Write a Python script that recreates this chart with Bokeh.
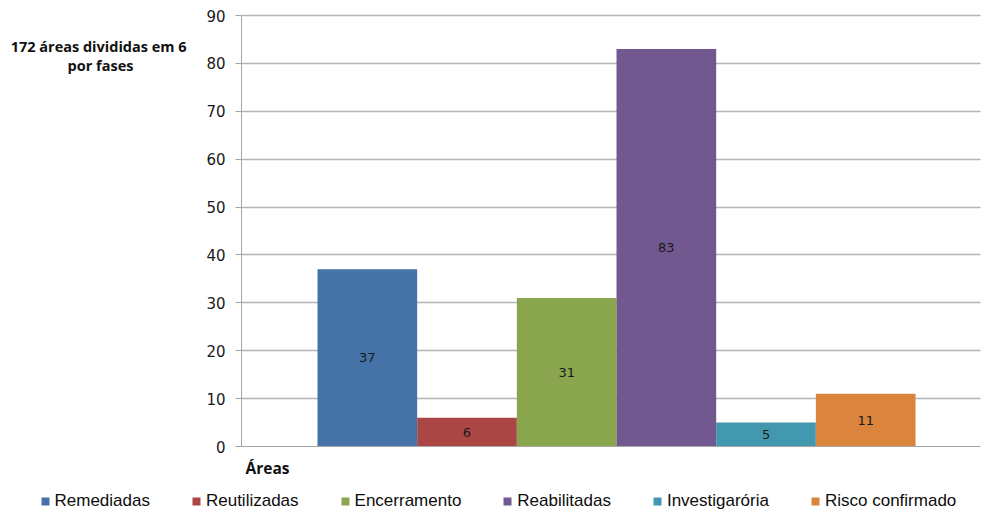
from bokeh.plotting import figure
from bokeh.models import (Range1d, ColumnDataSource, Legend, LegendItem, Label,
                          FixedTicker, LabelSet, Grid)
from bokeh.embed import file_html
from bokeh.resources import INLINE
from bokeh.core.properties import value

# ---- data ----
series = ["Remediadas", "Reutilizadas", "Encerramento", "Reabilitadas",
          "Investigarória", "Risco confirmado"]
values = [37, 6, 31, 83, 5, 11]
colors = ["#4572A7", "#AA4643", "#89A54E", "#71588F", "#4198AF", "#DB843D"]
y_ticks = [0, 10, 20, 30, 40, 50, 60, 70, 80, 90]
category_label = "Áreas"
title_lines = ["172 áreas divididas  em 6", "por fases"]

# ---- layout (pixels) ----
W, H = 983, 510
BAR_PX = 99.67          # one bar = one x unit
BAR0_PX = 317           # left edge of first bar
AXIS_PX = 241           # y axis position
RIGHT_PX = 980          # right end of plot area
TOP_PX, ZERO_PX = 15, 446
ppu_y = (ZERO_PX - TOP_PX) / 90.0


def xd(px):
    return (px - BAR0_PX) / BAR_PX


xs = [i + 0.5 for i in range(len(series))]
src = ColumnDataSource(dict(
    x=xs, top=values, color=colors, name=series,
    mid=[v / 2 for v in values], txt=[str(v) for v in values]))

p = figure(width=W, height=H, output_backend="svg", toolbar_location=None,
           title=None,
           x_range=Range1d(xd(0), xd(W)),
           y_range=Range1d(-(H - ZERO_PX) / ppu_y, 90 + TOP_PX / ppu_y),
           min_border=0, min_border_left=0, min_border_right=0,
           min_border_top=0, min_border_bottom=0)
p.outline_line_color = None
p.background_fill_color = "white"
p.border_fill_color = "white"

# axes drawn inside the frame
p.yaxis.fixed_location = xd(AXIS_PX)
p.yaxis.bounds = (0, 90)
p.yaxis.ticker = FixedTicker(ticks=y_ticks)
p.yaxis.axis_line_color = "#a6a6a6"
p.yaxis.major_tick_line_color = "#a6a6a6"
p.yaxis.major_tick_out = 6
p.yaxis.major_tick_in = 0
p.yaxis.minor_tick_line_color = None
p.yaxis.major_label_standoff = 10
p.yaxis.major_label_text_font = "DejaVu Sans"
p.yaxis.major_label_text_font_size = "15px"
p.yaxis.major_label_text_color = "#1a1a1a"

p.xaxis.fixed_location = 0
p.xaxis.bounds = (xd(AXIS_PX - 6), xd(RIGHT_PX))
p.xaxis.ticker = FixedTicker(ticks=[])
p.xaxis.axis_line_color = "#a6a6a6"
p.xaxis.major_tick_line_color = None
p.xaxis.minor_tick_line_color = None
p.xaxis.major_label_text_color = None

p.xgrid.grid_line_color = None
grid_cross = (xd(AXIS_PX), xd(RIGHT_PX))
if "cross_bounds" in Grid.properties():
    p.ygrid.ticker = FixedTicker(ticks=y_ticks[1:])
    p.ygrid.bounds = (0, 90)
    p.ygrid.cross_bounds = grid_cross
    p.ygrid.grid_line_color = "#b4b4b4"
    p.ygrid.grid_line_width = 1.5
else:
    p.ygrid.grid_line_color = None
    p.segment(x0=[grid_cross[0]] * (len(y_ticks) - 1), y0=y_ticks[1:],
              x1=[grid_cross[1]] * (len(y_ticks) - 1), y1=y_ticks[1:],
              line_color="#b4b4b4", line_width=1.5)

p.vbar(x="x", top="top", bottom=0, width=1, fill_color="color",
       line_color=None, source=src)

labels = LabelSet(x="x", y="mid", text="txt", source=src,
                  text_align="center", text_baseline="middle",
                  text_font=value("DejaVu Sans"), text_font_size="13px",
                  text_color="#1a1a1a")
p.add_layout(labels)

# legend keys: zero-size square markers on the same data (only shown in legend)
keys = p.scatter(x="x", y="mid", size=0, marker="square", fill_color="color",
                 line_color=None, source=src)
items = [LegendItem(label=name, renderers=[keys], index=i)
         for i, name in enumerate(series)]
legend = Legend(items=items, orientation="horizontal", location=(34.5, -1),
                glyph_width=20, glyph_height=20, label_standoff=0, spacing=36,
                padding=0, margin=0, border_line_color=None,
                background_fill_alpha=0,
                label_text_font="Liberation Sans", label_text_font_size="17px",
                label_text_color="#0d0d0d")
p.add_layout(legend, "center")

# texts
p.add_layout(Label(x=245, y=H - 467, x_units="screen", y_units="screen",
                   text=category_label, text_font="Open Sans",
                   text_font_style="bold", text_font_size="15.5px",
                   text_baseline="middle", text_align="left",
                   text_color="#111111"))
p.add_layout(Label(x=100, y=H - 46, x_units="screen", y_units="screen",
                   text=title_lines[0], text_font="Open Sans",
                   text_font_style="bold", text_font_size="14.5px",
                   text_baseline="middle", text_align="center",
                   text_color="#111111"))
p.add_layout(Label(x=100, y=H - 65, x_units="screen", y_units="screen",
                   text=title_lines[1], text_font="Open Sans",
                   text_font_style="bold", text_font_size="14.5px",
                   text_baseline="middle", text_align="center",
                   text_color="#111111"))

open("out.html", "w").write(file_html(p, INLINE))
